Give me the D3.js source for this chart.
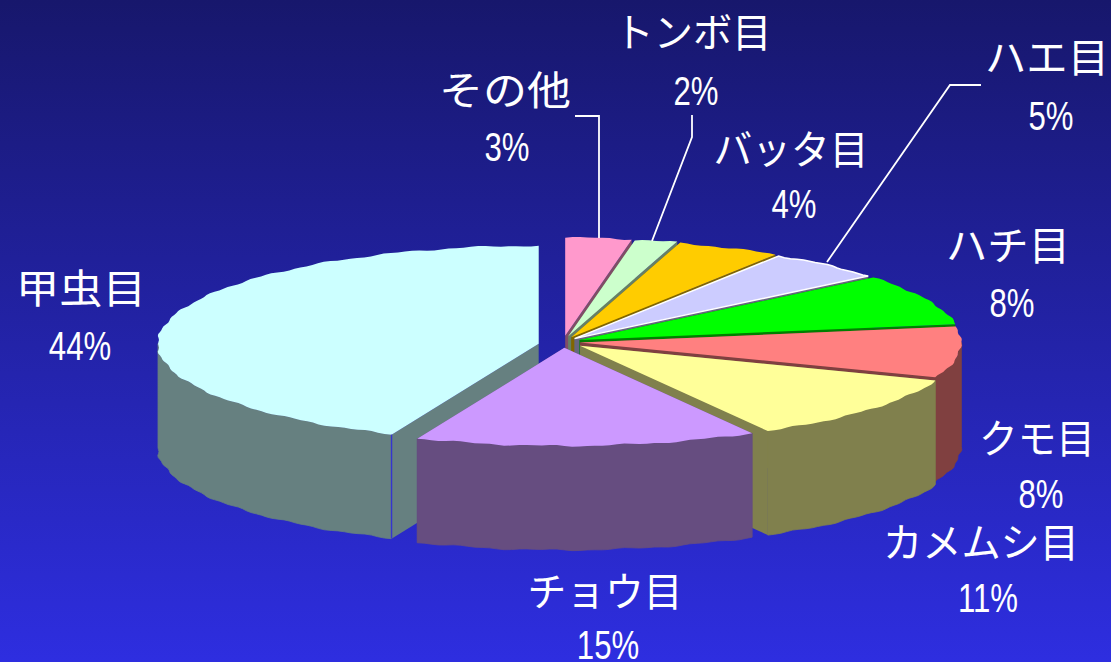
<!DOCTYPE html>
<html lang="ja">
<head>
<meta charset="utf-8">
<title>目別の割合</title>
<script src="https://cdn.jsdelivr.net/npm/d3@7"></script>
<style>
    html, body { margin: 0; padding: 0; background: #1c1c80; overflow: hidden; }
    svg { display: block; }
    .name { font-family: "Noto Sans CJK JP", sans-serif; font-size: 40px; font-weight: 400; fill: #fff; text-anchor: middle; }
    .pct { font-family: "Liberation Sans", sans-serif; font-size: 41px; fill: #fff; text-anchor: middle; }
    .leader { fill: none; stroke: #fff; stroke-width: 1.8; }
</style>
</head>
<body>
<div id="chart"></div>
<script>
"use strict";

// clockwise from twelve o'clock
const categories = ["その他", "トンボ目", "バッタ目", "ハエ目", "ハチ目", "クモ目", "カメムシ目", "チョウ目", "甲虫目"];
const shares = [2.8, 1.8, 4.4, 5.0, 8.4, 8.4, 11.0, 14.5, 43.7];

const sliceColors = ["#ff99cc", "#ccffcc", "#ffcc00", "#ccccff", "#00ff00", "#ff8080", "#ffff99", "#cc99ff", "#ccffff"];
const explode = [0.065, 0.06, 0.053, 0.046, 0.048, 0.045, 0.059, 0.06, 0.065];
// the beetle slice sits a little lower than its explode alone would put it
const lift = [0, 0, 0, 0, 0, 0, 0, 0, 3];
// back slices first so the front ones cover them
const drawOrder = [8, 0, 1, 2, 3, 4, 5, 6, 7];

const labelAt = [
    {x: 505, y: 105, w: 132, px: 507, py: 161},
    {x: 693, y: 47, w: 157, px: 696, py: 105},
    {x: 791, y: 164, w: 155, px: 794, py: 218},
    {x: 1047, y: 72, w: 124, px: 1051, py: 130},
    {x: 1008, y: 260, w: 124, px: 1012, py: 317},
    {x: 1037, y: 453, w: 116, px: 1041, py: 508},
    {x: 981, y: 557, w: 196, px: 988, py: 612},
    {x: 605, y: 606, w: 155, px: 608, py: 659},
    {x: 81, y: 303, w: 130, px: 80, py: 360}
];
const leaders = [
    [[575, 116], [599, 116], [599, 238]],
    [[692, 115], [692, 137], [652, 241]],
    [[981, 85], [950, 85], [827, 262]]
];

const width = 1111, height = 662;
const cx = 563, cy = 342, rx = 381, ry = 98, depth = 104;

const xScale = d3.scaleLinear().domain([-1, 1]).range([cx - rx, cx + rx]);
const yScale = d3.scaleLinear().domain([-1, 1]).range([cy - ry, cy + ry]);

const svg = d3.select("#chart").append("svg")
    .attr("width", width)
    .attr("height", height);

const grad = svg.append("defs").append("linearGradient")
    .attr("id", "bg")
    .attr("x1", 0).attr("y1", 0).attr("x2", 0).attr("y2", 1);
grad.append("stop").attr("offset", "0%").attr("stop-color", "#17176c");
grad.append("stop").attr("offset", "100%").attr("stop-color", "#2e2ee0");

svg.append("rect")
    .attr("width", width)
    .attr("height", height)
    .attr("fill", "url(#bg)");

const arcs = d3.pie().sort(null).value(d => d).startAngle(0).endAngle(2 * Math.PI)(shares);
const line = d3.line();

function shade(color) {
    const c = d3.rgb(color);
    return d3.rgb(c.r / 2, c.g / 2, c.b / 2).formatHex();
}

function apex(i, drop) {
    const mid = (arcs[i].startAngle + arcs[i].endAngle) / 2;
    const e = explode[i];
    return [xScale(e * Math.sin(mid)), yScale(-e * Math.cos(mid)) + drop + lift[i]];
}

// the rim of the original is a rough low-res ellipse, not a clean curve
function rimPoint(i, a, drop) {
    const mid = (arcs[i].startAngle + arcs[i].endAngle) / 2;
    const e = explode[i];
    const w = Math.sin(a * 29) * 0.6 + Math.sin(a * 71) * 0.4;
    const ux = e * Math.sin(mid) + Math.sin(a) * (1 + 0.004 * w);
    const uy = -e * Math.cos(mid) - Math.cos(a) * (1 + 0.011 * w);
    return [xScale(ux), yScale(uy) + drop + lift[i]];
}

function rim(i, a0, a1, drop) {
    const n = Math.max(2, Math.ceil((a1 - a0) / 0.02));
    return d3.range(n + 1).map(k => rimPoint(i, a0 + (a1 - a0) * k / n, drop));
}

drawOrder.forEach(i => {
    const a0 = arcs[i].startAngle, a1 = arcs[i].endAngle;
    const g = svg.append("g").attr("class", "slice");
    const side = shade(sliceColors[i]);

    [a0, a1].forEach(a => {
        g.append("path")
            .attr("d", line([apex(i, 0), rimPoint(i, a, 0), rimPoint(i, a, depth), apex(i, depth)]) + "Z")
            .attr("fill", side);
    });

    const w0 = Math.max(a0, Math.PI / 2), w1 = Math.min(a1, Math.PI * 1.5);
    if (w1 > w0) {
        g.append("path")
            .attr("d", line(rim(i, w0, w1, 0).concat(rim(i, w0, w1, depth).reverse())) + "Z")
            .attr("fill", side)
            .attr("stroke", side)
            .attr("stroke-width", 0.8);
    }

    g.append("path")
        .attr("d", line([apex(i, 0)].concat(rim(i, a0, a1, 0))) + "Z")
        .attr("fill", sliceColors[i])
        .attr("stroke", categories[i] === "ハエ目" ? "#fff" : "none")
        .attr("stroke-width", 1.5);

    // thin blue seam where the beetle slice's wall meets its cut face
    if (categories[i] === "甲虫目") {
        g.append("path")
            .attr("d", line([rimPoint(i, a0, 0), rimPoint(i, a0, depth)]))
            .attr("stroke", "#3535d0")
            .attr("stroke-width", 1.4);
    }
});

svg.append("g").selectAll("path")
    .data(leaders)
    .join("path")
    .attr("class", "leader")
    .attr("d", d => line(d));

const labels = svg.append("g").selectAll("g")
    .data(categories)
    .join("g");
labels.append("text")
    .attr("class", "name")
    .attr("x", (d, i) => labelAt[i].x)
    .attr("y", (d, i) => labelAt[i].y)
    .attr("textLength", (d, i) => labelAt[i].w)
    .attr("lengthAdjust", "spacingAndGlyphs")
    .text(d => d);
// the percentages are a condensed face in the original
labels.append("text")
    .attr("class", "pct")
    .attr("transform", (d, i) => `translate(${labelAt[i].px},${labelAt[i].py}) scale(0.76,1)`)
    .text((d, i) => Math.round(shares[i]) + "%");
</script>
</body>
</html>
